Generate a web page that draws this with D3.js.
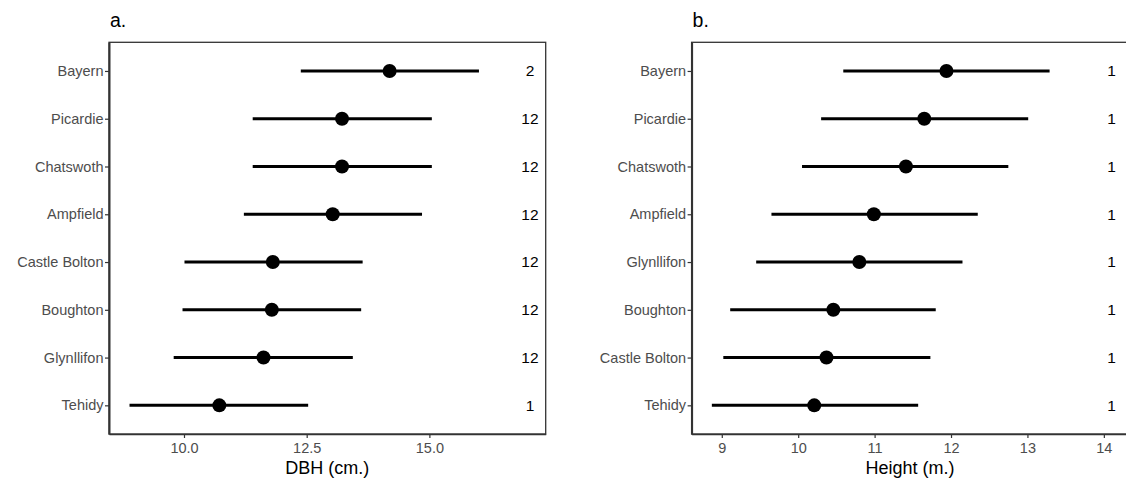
<!DOCTYPE html>
<html>
<head>
<meta charset="utf-8">
<script src="https://cdn.jsdelivr.net/npm/d3@7"></script>
<style>
  html, body { margin: 0; padding: 0; background: #fff; }
  svg { display: block; font-family: "Liberation Sans", Arial, sans-serif; }
</style>
</head>
<body>
<svg id="chart" width="1126" height="480"></svg>
<script>
// ---------- Panel a: DBH ----------
const sitesA = ["Bayern", "Picardie", "Chatswoth", "Ampfield", "Castle Bolton", "Boughton", "Glynllifon", "Tehidy"];
const meanA  = [14.19, 13.22, 13.22, 13.03, 11.81, 11.79, 11.62, 10.72];
const lowA   = [12.38, 11.40, 11.40, 11.22, 10.01, 9.97, 9.79, 8.89];
const highA  = [16.01, 15.05, 15.05, 14.85, 13.64, 13.61, 13.44, 12.53];
const nA     = ["2", "12", "12", "12", "12", "12", "12", "1"];
const ticksA = [10, 12.5, 15];

// ---------- Panel b: Height ----------
const sitesB = ["Bayern", "Picardie", "Chatswoth", "Ampfield", "Glynllifon", "Boughton", "Castle Bolton", "Tehidy"];
const meanB  = [11.94, 11.65, 11.41, 10.99, 10.80, 10.46, 10.37, 10.21];
const lowB   = [10.59, 10.30, 10.05, 9.65, 9.45, 9.11, 9.02, 8.87];
const highB  = [13.29, 13.01, 12.75, 12.35, 12.15, 11.80, 11.73, 11.57];
const nB     = ["1", "1", "1", "1", "1", "1", "1", "1"];
const ticksB = [9, 10, 11, 12, 13, 14];

const svg = d3.select("#chart");
const plotTop = 42.3, plotBottom = 434;
const FONT = "'Liberation Sans', Arial, sans-serif";

function panel(cfg) {
  const g = svg.append("g");
  const x = d3.scaleLinear().domain(cfg.domain).range([cfg.left, cfg.right]);
  const y = d3.scalePoint().domain(cfg.sites).range([plotTop, plotBottom]).padding(0.6);

  // panel border
  g.append("rect")
    .attr("x", cfg.left).attr("y", plotTop)
    .attr("width", cfg.right - cfg.left).attr("height", plotBottom - plotTop)
    .attr("fill", "none").attr("stroke", "#333").attr("stroke-width", 1.3);

  // x axis
  const xa = g.append("g").attr("transform", `translate(0,${plotBottom})`)
    .call(d3.axisBottom(x).tickValues(cfg.ticks).tickFormat(cfg.fmt).tickSize(4).tickPadding(5).tickSizeOuter(0));
  xa.select(".domain").attr("stroke", "#333").attr("stroke-width", 1.6);
  xa.selectAll(".tick line").attr("stroke", "#333").attr("stroke-width", 1.2);
  xa.selectAll(".tick text").attr("fill", "#4d4d4d").style("font-size", "14.5px")
    .style("font-family", FONT);

  // y axis
  const ya = g.append("g").attr("transform", `translate(${cfg.left},0)`)
    .call(d3.axisLeft(y).tickSize(4).tickPadding(1.5).tickSizeOuter(0));
  ya.select(".domain").attr("stroke", "#333").attr("stroke-width", 2);
  ya.selectAll(".tick line").attr("stroke", "#333").attr("stroke-width", 1.2);
  ya.selectAll(".tick text").attr("fill", "#4d4d4d").style("font-size", "14.5px")
    .style("font-family", FONT);

  // error bars
  g.selectAll("line.err").data(cfg.sites).join("line").attr("class", "err")
    .attr("x1", (d, i) => x(cfg.low[i])).attr("x2", (d, i) => x(cfg.high[i]))
    .attr("y1", d => y(d)).attr("y2", d => y(d))
    .attr("stroke", "#000").attr("stroke-width", 3);

  // points
  g.selectAll("circle.pt").data(cfg.sites).join("circle").attr("class", "pt")
    .attr("cx", (d, i) => x(cfg.mean[i])).attr("cy", d => y(d)).attr("r", 7)
    .attr("fill", "#000");

  // n labels
  g.selectAll("text.n").data(cfg.sites).join("text").attr("class", "n")
    .attr("x", x(cfg.nPos)).attr("y", d => y(d)).attr("dy", "0.35em")
    .attr("text-anchor", "middle").attr("fill", "#000").style("font-size", "15.5px")
    .text((d, i) => cfg.n[i]);

  // axis title
  g.append("text").attr("x", (cfg.left + cfg.right) / 2).attr("y", 474)
    .attr("text-anchor", "middle").attr("fill", "#000").style("font-size", "18px")
    .text(cfg.xTitle);

  // panel title
  g.append("text").attr("x", cfg.left + 1).attr("y", 26.5)
    .attr("fill", "#000").style("font-size", "19.5px")
    .text(cfg.title);
}

panel({
  sites: sitesA, mean: meanA, low: lowA, high: highA, n: nA, ticks: ticksA,
  fmt: d3.format(".1f"), domain: [8.472, 17.37], left: 109, right: 545.7,
  nPos: 17.05, xTitle: "DBH (cm.)", title: "a."
});

panel({
  sites: sitesB, mean: meanB, low: lowB, high: highB, n: nB, ticks: ticksB,
  fmt: d3.format("d"), domain: [8.605, 14.32], left: 691.6, right: 1128.3,
  nPos: 14.1, xTitle: "Height (m.)", title: "b."
});
</script>
</body>
</html>
